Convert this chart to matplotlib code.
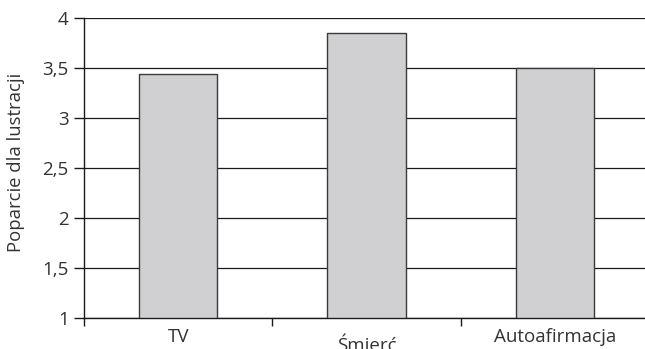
import matplotlib.pyplot as plt

categories = ['TV', 'Śmierć', 'Autoafirmacja']
support = [3.44, 3.85, 3.50]
y_ticks = [1, 1.5, 2, 2.5, 3, 3.5, 4]
y_labels = ['1', '1,5', '2', '2,5', '3', '3,5', '4']

plt.rcParams['font.family'] = ['Open Sans', 'DejaVu Sans']

fig = plt.figure(figsize=(6.45, 3.49), dpi=100)
ax = fig.add_axes([84 / 645, 31 / 349, 565 / 645, 300 / 349])

x = range(len(categories))
ax.bar(x, [v - 1 for v in support], bottom=1, width=0.415,
       color='#d0d0d2', edgecolor='#3a3a3a', linewidth=1.0, zorder=3)

ax.set_xlim(-0.5, len(categories) - 0.5)
ax.set_ylim(1, 4)
ax.set_yticks(y_ticks)
ax.set_yticklabels(y_labels, fontsize=13.5, color='#333333')
ax.yaxis.grid(True, color='#1a1a1a', linewidth=0.9, zorder=0)
ax.set_axisbelow(True)

# category boundaries carry the tick marks, names sit under the bars
ax.set_xticks([-0.5, 0.5, 1.5])
ax.set_xticklabels([])
ax.tick_params(axis='x', length=6, width=1, color='#1a1a1a')
ax.tick_params(axis='y', length=7, width=1, color='#1a1a1a', pad=4)
label_drop = [7, 13.5, 7]
for i, name in enumerate(categories):
    ax.annotate(name, xy=(i, 1), xycoords='data', xytext=(0, -label_drop[i]),
                textcoords='offset points', ha='center', va='top',
                fontsize=13.5, color='#333333', annotation_clip=False)

ax.set_ylabel('Poparcie dla lustracji', fontsize=13.3, color='#333333')
ax.yaxis.set_label_coords(-0.104, 0.52)

for side in ['top', 'right']:
    ax.spines[side].set_visible(False)
for side in ['left', 'bottom']:
    ax.spines[side].set_color('#1a1a1a')
    ax.spines[side].set_linewidth(1.0)

fig.savefig('out.png', dpi=100)
